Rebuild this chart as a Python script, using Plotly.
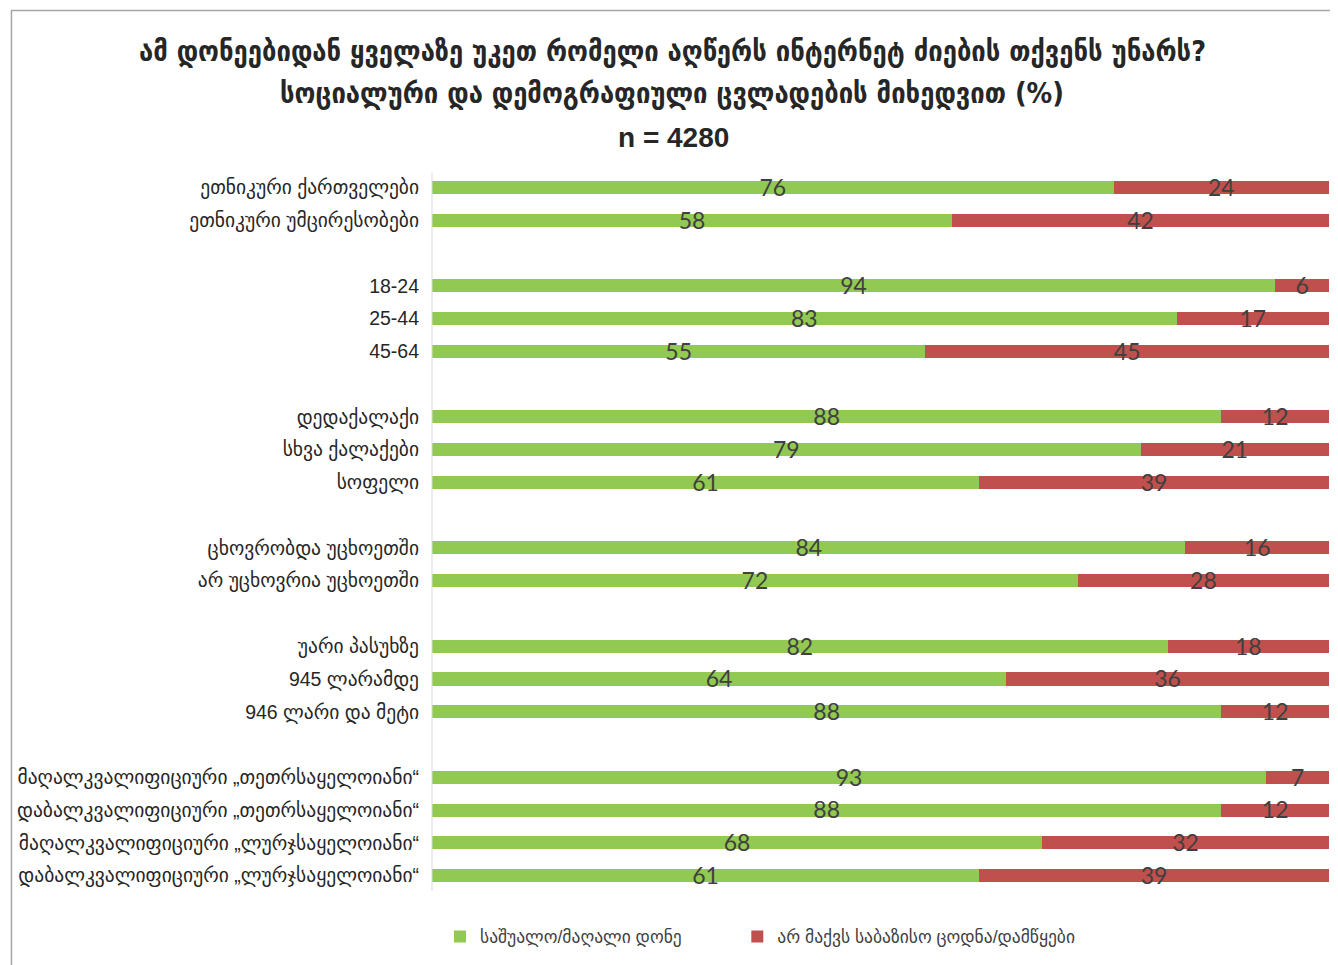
import plotly.graph_objects as go

categories = [
    "ეთნიკური ქართველები", "ეთნიკური უმცირესობები",
    "18-24", "25-44", "45-64",
    "დედაქალაქი", "სხვა ქალაქები", "სოფელი",
    "ცხოვრობდა უცხოეთში", "არ უცხოვრია უცხოეთში",
    "უარი პასუხზე", "945 ლარამდე", "946 ლარი და მეტი",
    "მაღალკვალიფიციური „თეთრსაყელოიანი“", "დაბალკვალიფიციური „თეთრსაყელოიანი“",
    "მაღალკვალიფიციური „ლურჯსაყელოიანი“", "დაბალკვალიფიციური „ლურჯსაყელოიანი“",
]
group_sizes = [2, 3, 3, 2, 3, 4]
medium_high = [76, 58, 94, 83, 55, 88, 79, 61, 84, 72, 82, 64, 88, 93, 88, 68, 61]
no_basic = [24, 42, 6, 17, 45, 12, 21, 39, 16, 28, 18, 36, 12, 7, 12, 32, 39]
series_names = ["საშუალო/მაღალი დონე", "არ მაქვს საბაზისო ცოდნა/დამწყები"]
title_lines = ["ამ დონეებიდან ყველაზე უკეთ რომელი აღწერს ინტერნეტ ძიების თქვენს უნარს?",
               "სოციალური და დემოგრაფიული ცვლადების მიხედვით (%)"]
n_label = "n = 4280"

GREEN = "#92C952"
RED = "#C0504D"

# row positions with a blank row between groups
positions = []
row = 0
for size in group_sizes:
    for _ in range(size):
        positions.append(row)
        row += 1
    row += 1
last_row = positions[-1]

fig = go.Figure()
fig.add_trace(go.Bar(y=positions, x=medium_high, orientation="h", name=series_names[0],
                     marker=dict(color=GREEN, line=dict(width=0)), width=0.4, hoverinfo="x",
                     legend="legend"))
fig.add_trace(go.Bar(y=positions, x=no_basic, orientation="h", name=series_names[1],
                     marker=dict(color=RED, line=dict(width=0)), width=0.4, hoverinfo="x",
                     legend="legend2"))

label_font = dict(family="Lato, DejaVu Sans", size=23, color="#404040")
fig.add_trace(go.Scatter(y=[p + 0.08 for p in positions], x=[g / 2 for g in medium_high],
                         mode="text", text=[str(v) for v in medium_high],
                         textfont=label_font, showlegend=False, hoverinfo="skip"))
fig.add_trace(go.Scatter(y=[p + 0.08 for p in positions],
                         x=[g + r / 2 for g, r in zip(medium_high, no_basic)],
                         mode="text", text=[str(v) for v in no_basic],
                         textfont=label_font, showlegend=False, hoverinfo="skip"))

# page has an 8px body margin; work in reference pixel coords and shift
OFF = 8
W, H = 1330, 957
L = 430 - OFF
R = W - (1329 - OFF)
T = 171 - OFF
B = H - (892.4 - OFF)
pw, ph = W - L - R, H - T - B

def px_x(x):
    return (x - OFF - L) / pw

def px_y(y):
    return (H - B - (y - OFF)) / ph

legend_font = dict(family="Liberation Sans, DejaVu Sans", size=17.5, color="#404040")
fig.update_layout(
    width=W, height=H,
    margin=dict(l=L, r=R, t=T, b=B),
    barmode="stack",
    plot_bgcolor="white", paper_bgcolor="white",
    font=dict(family="Liberation Sans, DejaVu Sans", size=19.5, color="#262626"),
    xaxis=dict(range=[0, 100], visible=False, fixedrange=True),
    yaxis=dict(range=[last_row + 0.5, -0.5], tickmode="array", tickvals=positions,
               ticktext=categories, showgrid=False, zeroline=False,
               showline=False, ticks="", ticklabelstandoff=12,
               tickfont=dict(family="Liberation Sans, DejaVu Sans", size=19.5, color="#262626")),
    legend=dict(orientation="h", x=px_x(438), xanchor="left", y=px_y(937), yanchor="middle",
                font=legend_font, itemwidth=30),
    legend2=dict(orientation="h", x=px_x(736), xanchor="left", y=px_y(937), yanchor="middle",
                 font=legend_font, itemwidth=30),
    showlegend=True,
)

# axis line at left
fig.add_shape(type="line", xref="paper", yref="paper", x0=0, x1=0, y0=0.002, y1=0.998,
              line=dict(color="#D9D9D9", width=1))
# outer border
fig.add_shape(type="rect", xref="paper", yref="paper",
              x0=px_x(8.5), x1=px_x(1336.5), y0=px_y(990), y1=px_y(10.5),
              line=dict(color="#A6A6A6", width=1.5), fillcolor="rgba(0,0,0,0)", layer="below")

title_font = dict(family="DejaVu Sans Condensed, Liberation Sans Narrow, DejaVu Sans", size=28.5, color="#262626")
fig.add_annotation(xref="paper", yref="paper", x=px_x(671), y=px_y(51), text="<b>" + title_lines[0] + "</b>",
                   showarrow=False, font=title_font, xanchor="center", yanchor="middle")
fig.add_annotation(xref="paper", yref="paper", x=px_x(671), y=px_y(93), text="<b>" + title_lines[1] + "</b>",
                   showarrow=False, font=title_font, xanchor="center", yanchor="middle")
fig.add_annotation(xref="paper", yref="paper", x=px_x(672), y=px_y(137), text="<b>" + n_label + "</b>",
                   showarrow=False, font=dict(family="Liberation Sans Narrow, Liberation Sans", size=28, color="#262626"),
                   xanchor="center", yanchor="middle")

fig.write_html("out.html")
